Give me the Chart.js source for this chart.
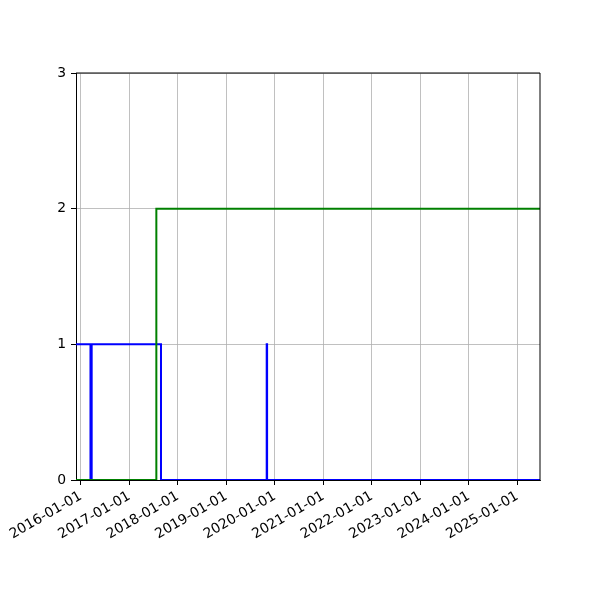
<!DOCTYPE html>
<html>
<head>
<meta charset="utf-8">
<script src="https://cdn.jsdelivr.net/npm/chart.js@4/dist/chart.umd.min.js"></script>
<style>
  body { margin: 0; background: #fff; }
</style>
</head>
<body>
<canvas id="chart" width="600" height="600"></canvas>
<script>
// x range and tick labels
const xRange = ['2015-11-26', '2025-06-20']
const tickLabels = ['2016-01-01', '2017-01-01', '2018-01-01', '2019-01-01', '2020-01-01',
  '2021-01-01', '2022-01-01', '2023-01-01', '2024-01-01', '2025-01-01']
const yTicks = [0, 1, 2, 3]

// step series (value holds until the next date)
const greenDates = ['2015-11-26', '2017-07-23', '2025-06-20']
const greenValues = [0, 2, 2]

const blueDates = ['2015-11-26', '2016-03-14', '2016-03-23', '2017-08-27', '2019-11-01', '2019-11-04', '2025-06-20']
const blueValues = [1, 0, 1, 0, 1, 0, 0]

const day = (s) => Date.parse(s + 'T00:00:00Z')
const toPoints = (dates, values) => dates.map((d, i) => ({ x: day(d), y: values[i] }))

const font = { family: 'DejaVu Sans', size: 13.9 }

const frame = {
  id: 'frame',
  afterDraw(chart) {
    const { ctx, chartArea: a } = chart
    ctx.save()
    ctx.strokeStyle = '#000'
    ctx.lineWidth = 1
    ctx.beginPath()
    ctx.moveTo(a.left, a.top)
    ctx.lineTo(a.right, a.top)
    ctx.lineTo(a.right, a.bottom)
    ctx.stroke()
    ctx.restore()
  }
}

new Chart(document.getElementById('chart'), {
  type: 'line',
  data: {
    datasets: [
      {
        data: toPoints(greenDates, greenValues),
        borderColor: '#008000',
        borderWidth: 2,
        stepped: true,
        pointRadius: 0,
        clip: 0,
      },
      {
        data: toPoints(blueDates, blueValues),
        borderColor: '#0000ff',
        borderWidth: 2,
        stepped: true,
        pointRadius: 0,
        clip: 0,
      }
    ]
  },
  options: {
    responsive: false,
    devicePixelRatio: 1,
    animation: false,
    layout: { padding: { left: 36, top: 73, right: 60, bottom: 60 } },
    plugins: { legend: { display: false }, tooltip: { enabled: false } },
    scales: {
      x: {
        type: 'linear',
        min: day(xRange[0]),
        max: day(xRange[1]),
        afterBuildTicks: (scale) => {
          scale.ticks = tickLabels.map(l => ({ value: day(l) }))
        },
        afterFit: (scale) => { scale.height = 60 },
        ticks: {
          autoSkip: false,
          minRotation: 30,
          maxRotation: 30,
          padding: 3,
          color: '#000',
          font,
          callback: (v) => new Date(v).toISOString().slice(0, 10)
        },
        grid: { color: '#b0b0b0', lineWidth: 0.8, tickColor: '#000', tickLength: 5, tickWidth: 1 },
        border: { color: '#000', width: 1 }
      },
      y: {
        min: 0,
        max: 3,
        afterBuildTicks: (scale) => {
          scale.ticks = yTicks.map(v => ({ value: v }))
        },
        afterFit: (scale) => { scale.width = 40 },
        ticks: { color: '#000', font, padding: 5 },
        grid: { color: '#b0b0b0', lineWidth: 0.8, tickColor: '#000', tickLength: 5, tickWidth: 1 },
        border: { color: '#000', width: 1 }
      }
    }
  },
  plugins: [frame]
})
</script>
</body>
</html>
